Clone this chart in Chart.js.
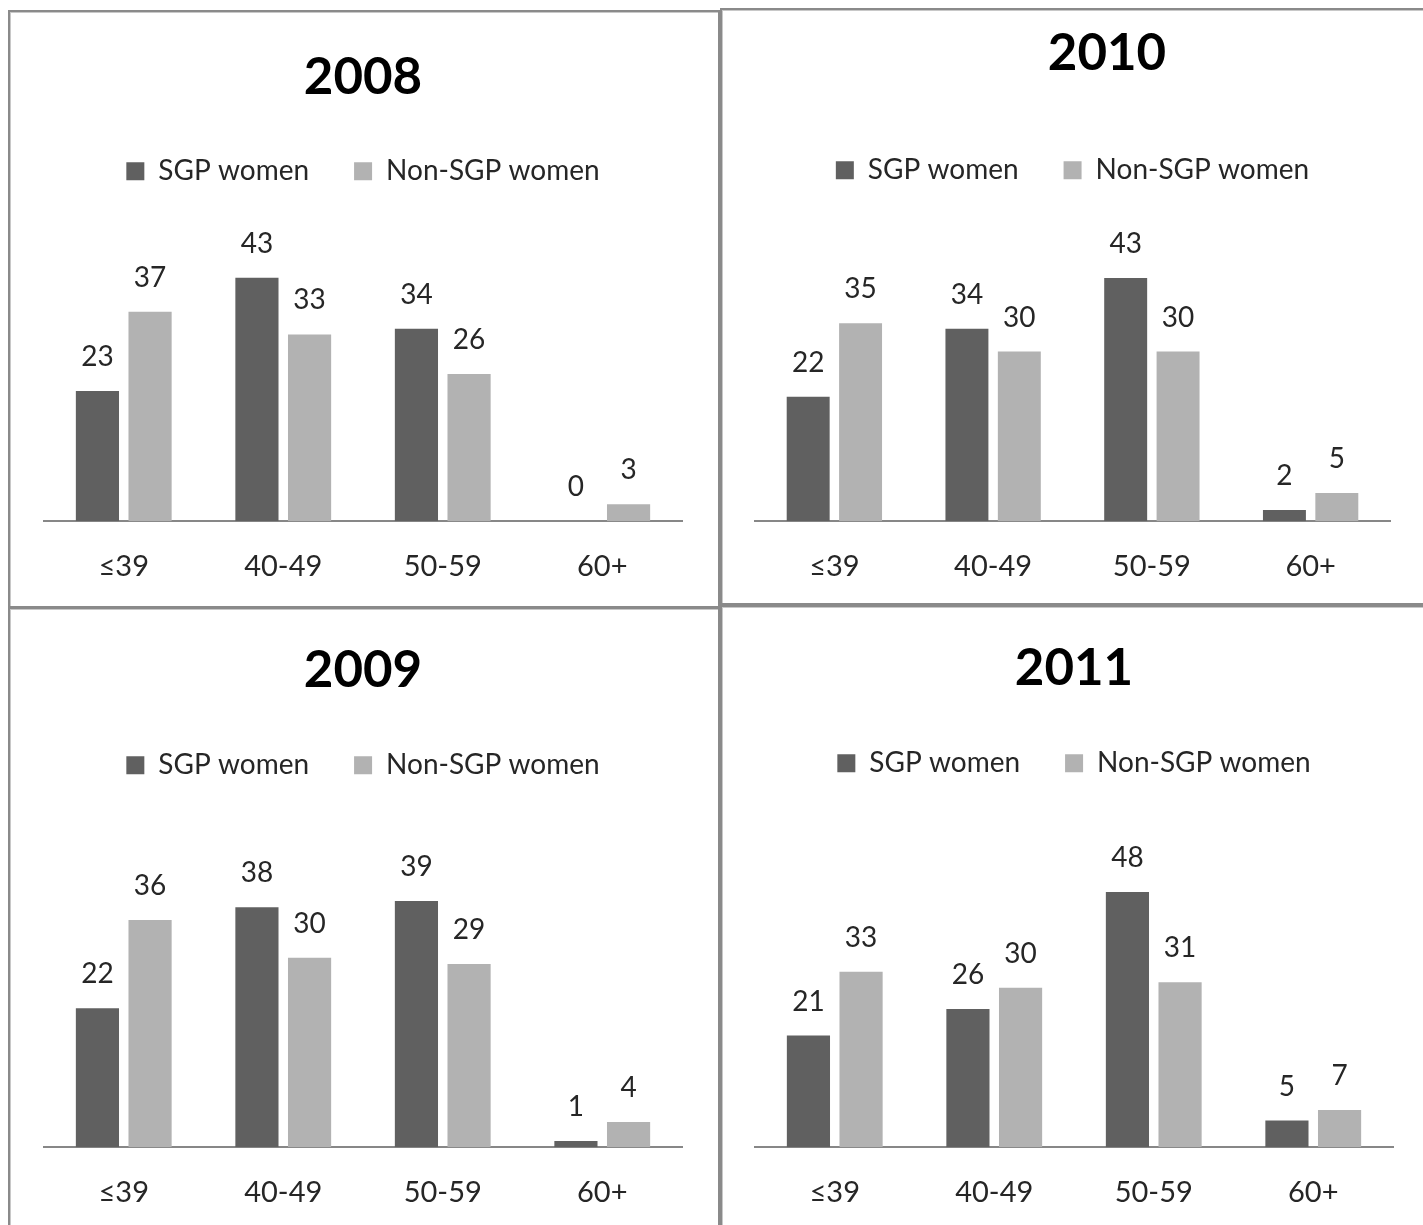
<!DOCTYPE html>
<html>
<head>
<meta charset="utf-8">
<script src="https://cdn.jsdelivr.net/npm/chart.js@4.4.1/dist/chart.umd.min.js"></script>
<style>
  html, body { margin: 0; padding: 0; background: #ffffff; overflow: hidden; }
  body { width: 1423px; height: 1225px; position: relative; }
  .panel {
    position: absolute;
    box-sizing: border-box;
    border: 2px solid #8a8a8a;
    box-shadow: inset 1px 1px 0 #c8c8c8;
    background: #ffffff;
    overflow: hidden;
  }
  .panel canvas { position: absolute; left: -2px; top: -2px; }
</style>
</head>
<body>
<div class="panel" id="p2008" style="left:8px;top:10px;width:712px;height:598px;"><canvas id="c2008" width="712" height="626"></canvas></div>
<div class="panel" id="p2010" style="left:720px;top:8px;width:710px;height:597px;"><canvas id="c2010" width="740" height="625"></canvas></div>
<div class="panel" id="p2009" style="left:8px;top:607px;width:712px;height:660px;"><canvas id="c2009" width="712" height="646"></canvas></div>
<div class="panel" id="p2011" style="left:720px;top:605px;width:710px;height:660px;"><canvas id="c2011" width="703" height="648"></canvas></div>
<script>
// Age groups and series shares (%) per survey year
const ageGroups = ['\u226439', '40-49', '50-59', '60+'];
const seriesNames = ['SGP women', 'Non-SGP women'];

const sgp2008 = [23, 43, 34, 0];
const nonSgp2008 = [37, 33, 26, 3];

const sgp2010 = [22, 34, 43, 2];
const nonSgp2010 = [35, 30, 30, 5];

const sgp2009 = [22, 38, 39, 1];
const nonSgp2009 = [36, 30, 29, 4];

const sgp2011 = [21, 26, 48, 5];
const nonSgp2011 = [33, 30, 31, 7];

const DARK = '#606060';
const LIGHT = '#b2b2b2';
const FONT = 'Lato, "Open Sans", sans-serif';

// Writes each bar's value above it
const valueLabels = {
  id: 'valueLabels',
  afterDatasetsDraw(chart) {
    const ctx = chart.ctx;
    ctx.save();
    ctx.font = '28px ' + FONT;
    ctx.fillStyle = '#262626';
    ctx.textAlign = 'center';
    ctx.textBaseline = 'middle';
    chart.data.datasets.forEach((ds, di) => {
      const meta = chart.getDatasetMeta(di);
      meta.data.forEach((bar, i) => {
        ctx.fillText(String(ds.data[i]), bar.x, bar.y - 34);
      });
    });
    ctx.restore();
  }
};

function makeChart(canvasId, year, sgp, nonSgp, panel) {
  const scales = {
    x: {
      grid: { display: false, drawTicks: false },
      border: { display: true, color: '#878787', width: 2 },
      ticks: { color: '#262626', font: { family: FONT, size: 29 }, padding: panel.tickPad, maxRotation: 0 }
    },
    y: {
      min: 0,
      max: panel.yMax,
      display: panel.rightGap > 0,
      position: 'right',
      grid: { display: false, drawTicks: false },
      border: { display: false },
      ticks: { display: false },
      afterFit(scale) { scale.width = panel.rightGap; }
    }
  };
  return new Chart(document.getElementById(canvasId), {
    type: 'bar',
    data: {
      labels: ageGroups,
      datasets: [
        { label: seriesNames[0], data: sgp, backgroundColor: DARK, borderWidth: 0 },
        { label: seriesNames[1], data: nonSgp, backgroundColor: LIGHT, borderWidth: 0 }
      ]
    },
    options: {
      responsive: false,
      animation: false,
      events: [],
      categoryPercentage: 0.66,
      barPercentage: 0.82,
      layout: { padding: panel.pad },
      scales,
      plugins: {
        title: {
          display: true,
          text: year,
          color: '#000000',
          font: { family: FONT, size: 51, weight: 'bold', lineHeight: 1.2 },
          padding: panel.titlePad
        },
        legend: {
          display: true,
          position: 'top',
          fullSize: panel.rightGap === 0,
          labels: {
            color: '#262626',
            font: { family: FONT, size: 28 },
            boxWidth: 18,
            boxHeight: 18,
            padding: 45
          }
        },
        tooltip: { enabled: false }
      }
    },
    plugins: [valueLabels]
  });
}

makeChart('c2008', '2008', sgp2008, nonSgp2008, {
  yMax: 57.6, rightGap: 0, tickPad: 28,
  pad: { top: 0, left: 36, right: 38, bottom: 24 },
  titlePad: { top: 37, bottom: 4 }
});
makeChart('c2010', '2010', sgp2010, nonSgp2010, {
  yMax: 57.8, rightGap: 69, tickPad: 28,
  pad: { top: 0, left: 35, right: 1, bottom: 21 },
  titlePad: { top: 15, bottom: 27 }
});
makeChart('c2009', '2009', sgp2009, nonSgp2009, {
  yMax: 56.7, rightGap: 0, tickPad: 28,
  pad: { top: 0, left: 36, right: 38, bottom: 15 },
  titlePad: { top: 33, bottom: 5 }
});
makeChart('c2011', '2011', sgp2011, nonSgp2011, {
  yMax: 67.7, rightGap: 0, tickPad: 28,
  pad: { top: 0, left: 35, right: 30, bottom: 15 },
  titlePad: { top: 33, bottom: 5 }
});
</script>
</body>
</html>
